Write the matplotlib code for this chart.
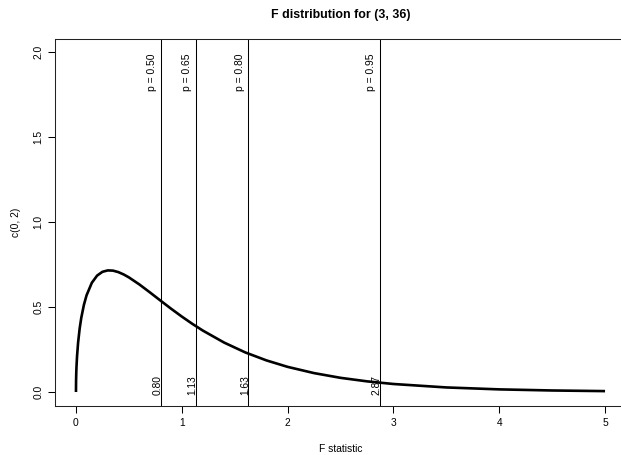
import matplotlib
matplotlib.use("Agg")
import matplotlib.pyplot as plt

plt.rcParams['font.family'] = ['Liberation Sans', 'DejaVu Sans']

# Density curve
f_x = [0, 0.001, 0.003, 0.005, 0.01, 0.02, 0.035, 0.05, 0.075, 0.1, 0.15, 0.2, 0.25,
       0.3, 0.35, 0.4, 0.45, 0.5, 0.6, 0.7, 0.8, 0.9, 1.0, 1.1, 1.2, 1.4, 1.6, 1.8,
       2.0, 2.25, 2.5, 2.75, 3.0, 3.5, 4.0, 4.5, 5.0]
f_y = [0.0, 0.0668, 0.1157, 0.1484, 0.2082, 0.2896, 0.3740, 0.4362, 0.5131, 0.5691,
       0.6431, 0.6855, 0.7076, 0.7159, 0.7146, 0.7060, 0.6923, 0.6749, 0.6329, 0.5859,
       0.5376, 0.4899, 0.4443, 0.4012, 0.3613, 0.2911, 0.2331, 0.1861, 0.1481, 0.1113,
       0.0835, 0.0628, 0.0472, 0.0269, 0.0155, 0.0090, 0.0053]

# Quantile markers
probs = ["0.50", "0.65", "0.80", "0.95"]
quantiles = [0.80, 1.13, 1.63, 2.87]
q_labels = ["0.80", "1.13", "1.63", "2.87"]

x_ticks = [0, 1, 2, 3, 4, 5]
y_ticks = [0.0, 0.5, 1.0, 1.5, 2.0]
y_tick_labels = ["0.0", "0.5", "1.0", "1.5", "2.0"]

fig = plt.figure(figsize=(6.21, 4.55), dpi=100)
ax = fig.add_axes([54.8 / 621, (455 - 405.6) / 455, 571.4 / 621, 366.9 / 455])

ax.plot(f_x, f_y, color='black', lw=1.9, solid_capstyle='butt')

for q, p, ql in zip(quantiles, probs, q_labels):
    ax.axvline(q, color='black', lw=0.75)
    ax.annotate(f"p = {p}", xy=(q, 1.99), xytext=(-4, 0), textcoords='offset points',
                rotation=90, rotation_mode='anchor', ha='right', va='baseline',
                fontsize=7.4)
    ax.annotate(ql, xy=(q, -0.015), xytext=(0, 0), textcoords='offset points',
                rotation=90, rotation_mode='anchor', ha='left', va='baseline',
                fontsize=7.4)

ax.set_xlim(-0.2, 5.2)
ax.set_ylim(-0.08, 2.08)
ax.set_xticks(x_ticks)
ax.set_xticklabels([str(v) for v in x_ticks])
ax.set_yticks(y_ticks)
ax.set_yticklabels(y_tick_labels, rotation=90, va='center')
ax.tick_params(axis='both', length=4.7, width=0.75, labelsize=7.4, color='black')
ax.tick_params(axis='x', pad=4)
ax.tick_params(axis='y', pad=3.5)
for s in ax.spines.values():
    s.set_linewidth(0.75)
    s.set_color('#222222')

ax.set_xlabel("F statistic", fontsize=7.4, labelpad=12)
ax.set_ylabel("c(0, 2)", fontsize=7.4, labelpad=9)
ax.set_title("F distribution for (3, 36)", fontsize=8.9, fontweight='bold', pad=15)

fig.savefig("out.png", dpi=100)
